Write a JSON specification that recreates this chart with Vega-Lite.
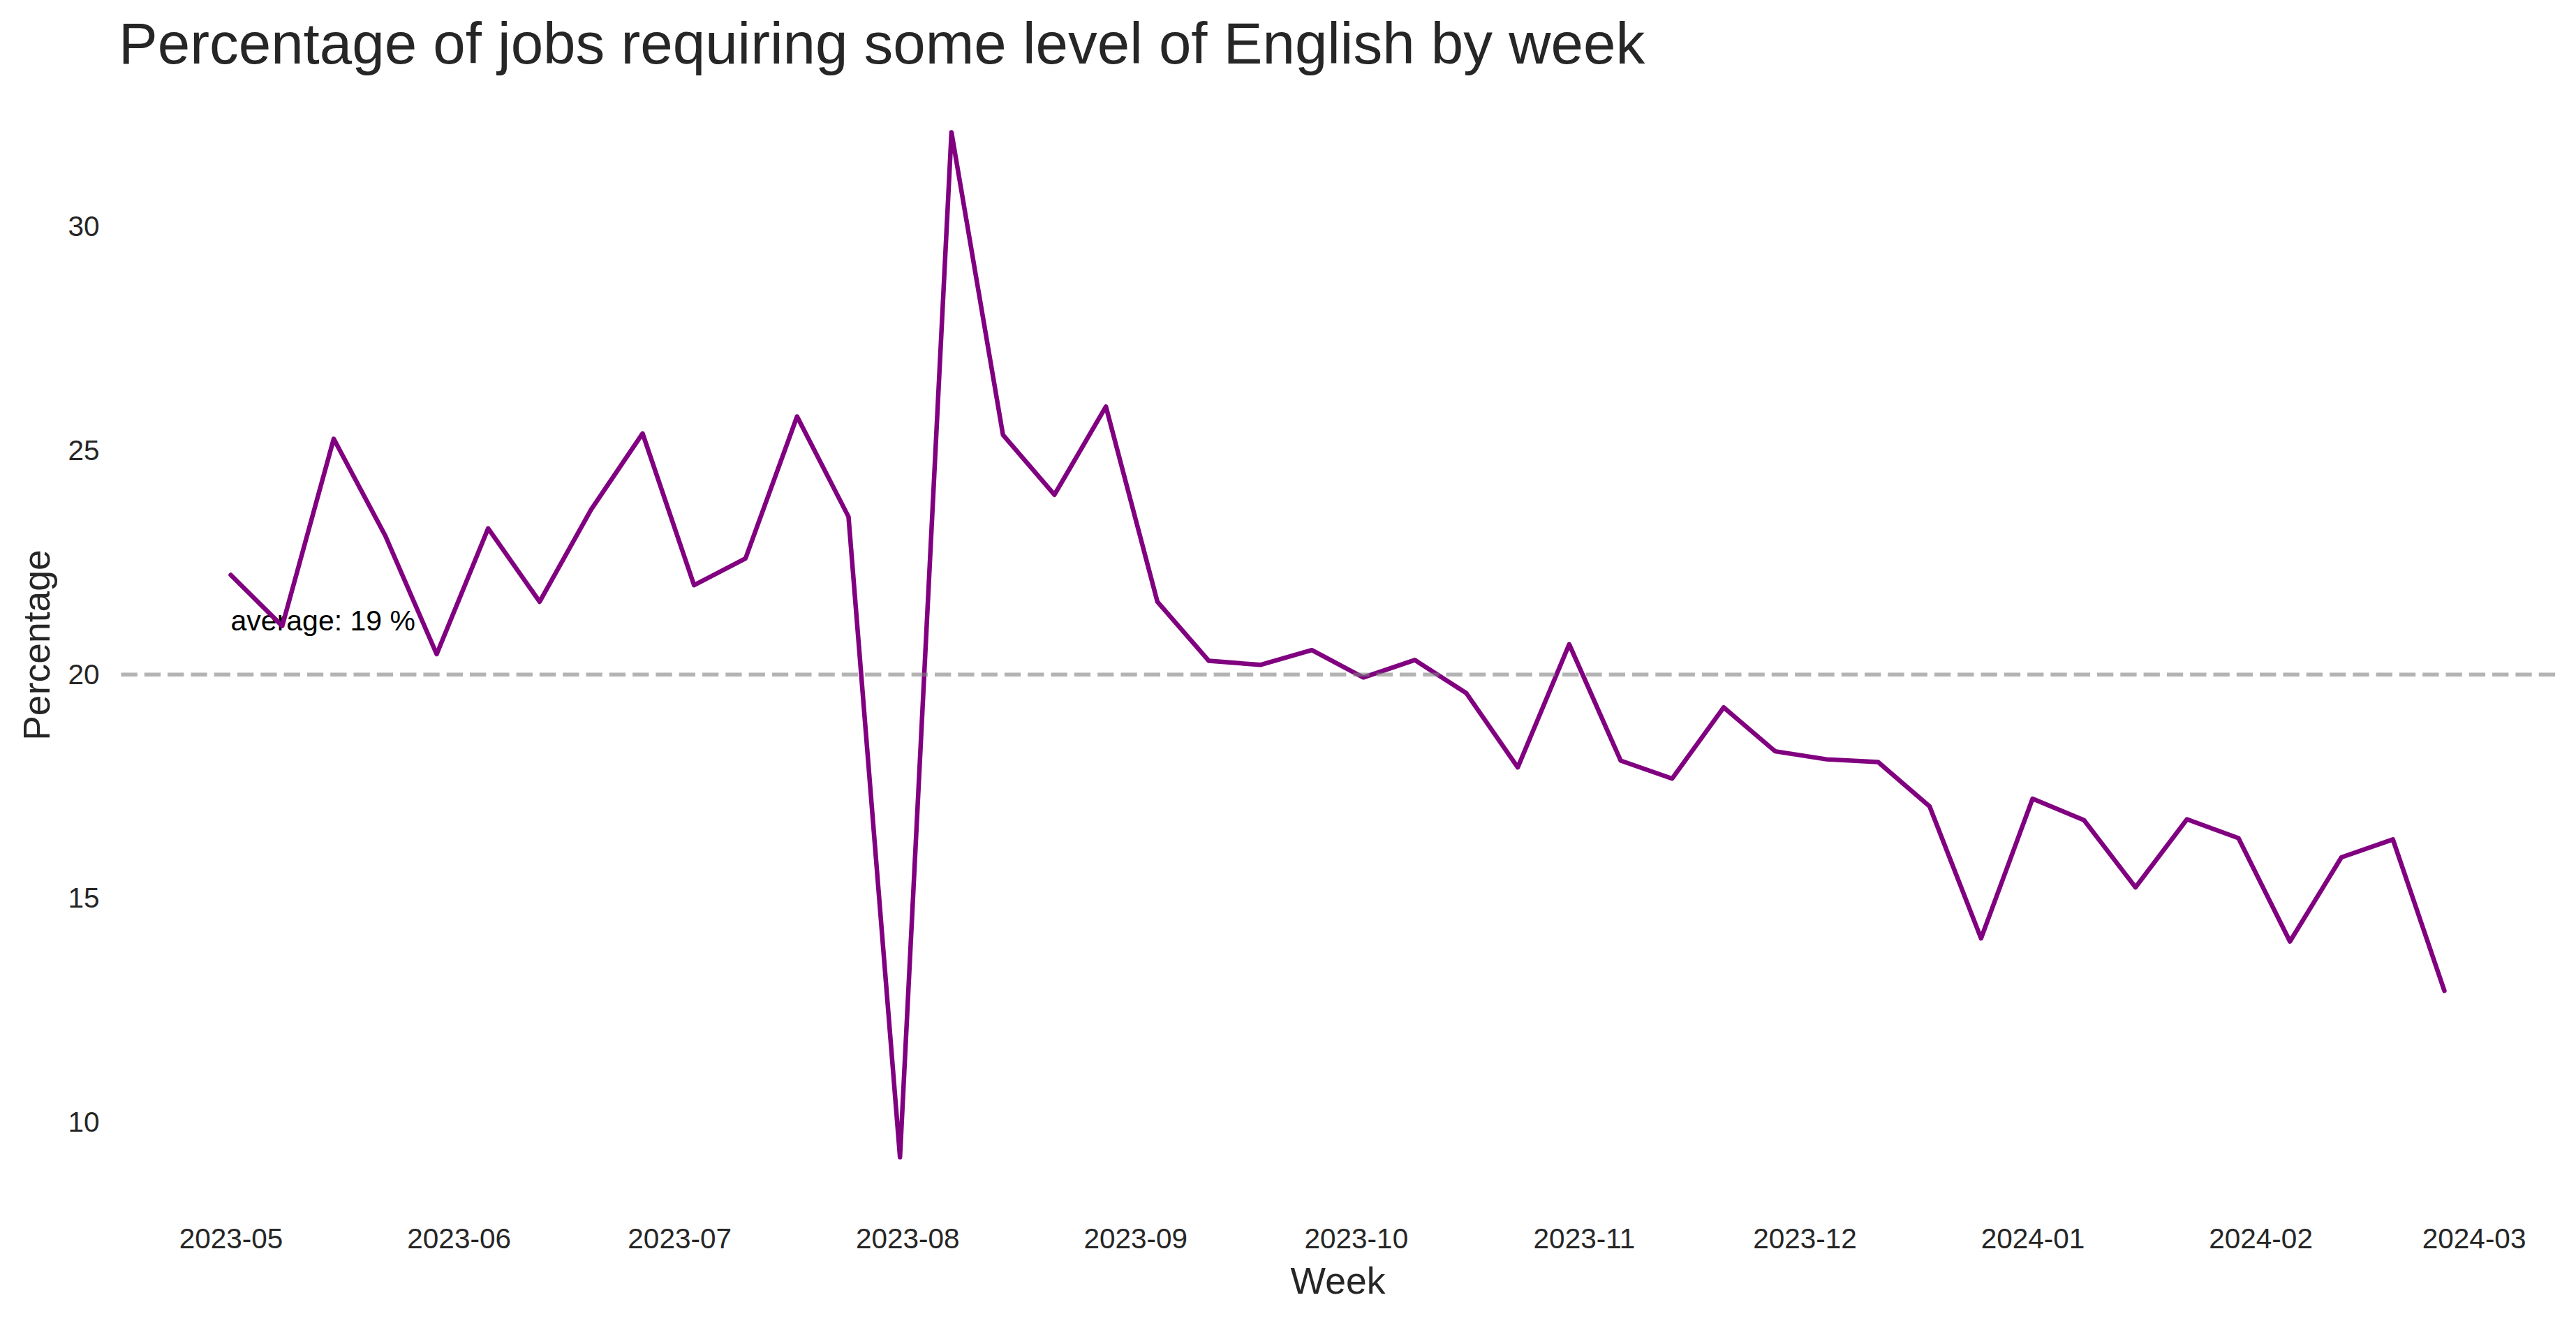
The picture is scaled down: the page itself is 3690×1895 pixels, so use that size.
{
  "$schema": "https://vega.github.io/schema/vega-lite/v6.json",
  "width": 3488,
  "height": 1615,
  "autosize": {"type": "none"},
  "padding": {"left": 172, "top": 116, "right": 30, "bottom": 164},
  "background": "white",
  "title": {
    "text": "Percentage of jobs requiring some level of English by week",
    "anchor": "start",
    "frame": "group",
    "baseline": "alphabetic",
    "offset": 24,
    "dx": -2,
    "dy": 82,
    "fontSize": 83.5,
    "font": "Liberation Sans",
    "fontWeight": "normal",
    "color": "#262626"
  },
  "data": {
    "values": [
      {"date": "2023-05-01", "pct": 22.24},
      {"date": "2023-05-08", "pct": 21.10},
      {"date": "2023-05-15", "pct": 25.28},
      {"date": "2023-05-22", "pct": 23.12},
      {"date": "2023-05-29", "pct": 20.47},
      {"date": "2023-06-05", "pct": 23.28},
      {"date": "2023-06-12", "pct": 21.64},
      {"date": "2023-06-19", "pct": 23.70},
      {"date": "2023-06-26", "pct": 25.40},
      {"date": "2023-07-03", "pct": 22.01},
      {"date": "2023-07-10", "pct": 22.61},
      {"date": "2023-07-17", "pct": 25.78},
      {"date": "2023-07-24", "pct": 23.54},
      {"date": "2023-07-31", "pct": 9.23},
      {"date": "2023-08-07", "pct": 32.13},
      {"date": "2023-08-14", "pct": 25.37},
      {"date": "2023-08-21", "pct": 24.03},
      {"date": "2023-08-28", "pct": 26.00},
      {"date": "2023-09-04", "pct": 21.64},
      {"date": "2023-09-11", "pct": 20.32},
      {"date": "2023-09-18", "pct": 20.23},
      {"date": "2023-09-25", "pct": 20.56},
      {"date": "2023-10-02", "pct": 19.95},
      {"date": "2023-10-09", "pct": 20.34},
      {"date": "2023-10-16", "pct": 19.60},
      {"date": "2023-10-23", "pct": 17.94},
      {"date": "2023-10-30", "pct": 20.69},
      {"date": "2023-11-06", "pct": 18.09},
      {"date": "2023-11-13", "pct": 17.69},
      {"date": "2023-11-20", "pct": 19.28},
      {"date": "2023-11-27", "pct": 18.30},
      {"date": "2023-12-04", "pct": 18.12},
      {"date": "2023-12-11", "pct": 18.06},
      {"date": "2023-12-18", "pct": 17.07},
      {"date": "2023-12-25", "pct": 14.12},
      {"date": "2024-01-01", "pct": 17.24},
      {"date": "2024-01-08", "pct": 16.76},
      {"date": "2024-01-15", "pct": 15.26},
      {"date": "2024-01-22", "pct": 16.78},
      {"date": "2024-01-29", "pct": 16.36},
      {"date": "2024-02-05", "pct": 14.05},
      {"date": "2024-02-12", "pct": 15.93},
      {"date": "2024-02-19", "pct": 16.33},
      {"date": "2024-02-26", "pct": 12.95}
    ]
  },
  "encoding": {
    "x": {
      "field": "date",
      "type": "temporal",
      "scale": {
        "type": "utc",
        "domain": [
          {"year": 2023, "month": 4, "date": 15, "hours": 22, "minutes": 48, "utc": true},
          {"year": 2024, "month": 3, "date": 12, "hours": 1, "minutes": 12, "utc": true}
        ]
      },
      "axis": {
        "title": "Week",
        "format": "%Y-%m",
        "values": [
          {"year": 2023, "month": 5, "date": 1, "utc": true},
          {"year": 2023, "month": 6, "date": 1, "utc": true},
          {"year": 2023, "month": 7, "date": 1, "utc": true},
          {"year": 2023, "month": 8, "date": 1, "utc": true},
          {"year": 2023, "month": 9, "date": 1, "utc": true},
          {"year": 2023, "month": 10, "date": 1, "utc": true},
          {"year": 2023, "month": 11, "date": 1, "utc": true},
          {"year": 2023, "month": 12, "date": 1, "utc": true},
          {"year": 2024, "month": 1, "date": 1, "utc": true},
          {"year": 2024, "month": 2, "date": 1, "utc": true},
          {"year": 2024, "month": 3, "date": 1, "utc": true}
        ],
        "labelPadding": 24,
        "titlePadding": 15
      }
    }
  },
  "layer": [
    {
      "transform": [{"aggregate": [{"op": "min", "field": "date", "as": "date"}]}],
      "mark": {"type": "text", "text": "average: 19 %", "align": "left", "baseline": "alphabetic", "fontSize": 41, "font": "Liberation Sans", "color": "black"},
      "encoding": {
        "y": {"datum": 21, "type": "quantitative"}
      }
    },
    {
      "mark": {"type": "line", "color": "#800080", "strokeWidth": 6.5, "strokeCap": "round", "strokeJoin": "round"},
      "encoding": {
        "y": {
          "field": "pct",
          "type": "quantitative",
          "scale": {"domain": [8.085, 33.275], "zero": false, "nice": false},
          "axis": {
            "title": "Percentage",
            "values": [10, 15, 20, 25, 30],
            "format": "d",
            "labelPadding": 30,
            "titlePadding": 15
          }
        }
      }
    },
    {
      "mark": {"type": "rule", "color": "#808080", "opacity": 0.6, "strokeWidth": 5.3, "strokeDash": [23.3, 10]},
      "encoding": {
        "x": null,
        "y": {"aggregate": "mean", "field": "pct", "type": "quantitative"}
      }
    }
  ],
  "config": {
    "view": {"stroke": null},
    "axis": {
      "domain": false,
      "ticks": false,
      "grid": false,
      "labelFont": "Liberation Sans",
      "labelFontSize": 40.5,
      "labelColor": "#262626",
      "titleFont": "Liberation Sans",
      "titleFontSize": 53.5,
      "titleFontWeight": "normal",
      "titleColor": "#262626"
    }
  }
}
